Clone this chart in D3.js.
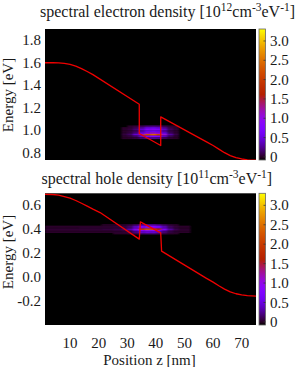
<!DOCTYPE html>
<html>
<head>
<meta charset="utf-8">
<script src="https://cdn.jsdelivr.net/npm/d3@7"></script>
<style>
  body { margin: 0; background: #fff; }
  text { font-family: "Liberation Serif", "Times New Roman", serif; fill: #1a1a1a; }
</style>
</head>
<body>
<svg id="chart"></svg>
<script>
// ---- data ----
const zTicks = [10, 20, 30, 40, 50, 60, 70];
const elecTicks = [0.8, 1.0, 1.2, 1.4, 1.6, 1.8];
const holeTicks = [-0.2, 0.0, 0.2, 0.4, 0.6];
const cbTicks = [0, 0.5, 1.0, 1.5, 2.0, 2.5, 3.0];

// conduction band edge (top panel)
const cbZ = [1.25, 4, 6, 8, 10, 12, 14, 16, 18, 34.2, 34.2, 41.7, 41.7, 57.7, 60, 62, 64, 66, 68, 70, 72, 75];
const cbE = [1.600, 1.600, 1.599, 1.594, 1.585, 1.570, 1.548, 1.522, 1.494, 1.231, 0.971, 0.864, 1.118, 0.896,
             0.864, 0.832, 0.800, 0.774, 0.756, 0.744, 0.737, 0.733];

// valence band edge (bottom panel)
const vbZ = [1.25, 4, 6, 8, 10, 12, 14, 16, 18, 20.5, 34.2, 34.6, 41.7, 42.0, 57.7, 60, 62, 64, 66, 68, 70, 72, 75];
const vbE = [0.692, 0.690, 0.684, 0.673, 0.659, 0.640, 0.617, 0.593, 0.568, 0.539, 0.317, 0.461, 0.369, 0.217,
             -0.011, -0.042, -0.072, -0.100, -0.123, -0.139, -0.148, -0.154, -0.158];

// spectral electron density, cells (z bin edges, energy bin edges, values)
const elecZEdges = [26, 28, 30, 32, 34, 36, 38, 40, 42, 44, 46, 48];
const elecEEdges = [1.0425, 1.0275, 1.0125, 0.9975, 0.9825, 0.9675, 0.9525, 0.9375, 0.9225];
const elecValues = [
  [0.00, 0.00, 0.01, 0.04, 0.10, 0.18, 0.20, 0.17, 0.09, 0.02, 0.01],
  [0.00, 0.01, 0.03, 0.10, 0.28, 0.50, 0.55, 0.47, 0.25, 0.07, 0.02],
  [0.00, 0.02, 0.05, 0.16, 0.45, 0.81, 0.90, 0.77, 0.41, 0.11, 0.03],
  [0.00, 0.01, 0.04, 0.11, 0.30, 0.54, 0.60, 0.51, 0.27, 0.07, 0.02],
  [0.00, 0.02, 0.07, 0.20, 0.55, 0.99, 1.10, 0.94, 0.50, 0.13, 0.03],
  [0.00, 0.05, 0.14, 0.43, 1.20, 2.16, 2.40, 2.04, 1.08, 0.29, 0.07],
  [0.00, 0.02, 0.05, 0.14, 0.40, 0.72, 0.80, 0.68, 0.36, 0.10, 0.02],
  [0.00, 0.01, 0.02, 0.05, 0.13, 0.23, 0.25, 0.21, 0.11, 0.03, 0.01]
];

// spectral hole density
const holeZEdges = [1.25, 5, 9, 13, 17, 21, 25, 28, 30, 32, 34, 36, 38, 40, 42, 44, 46, 48, 52];
const holeEEdges = [0.442, 0.430, 0.418, 0.406, 0.394, 0.382, 0.370, 0.358];
const holeValues = [
  [0.00, 0.00, 0.00, 0.00, 0.00, 0.01, 0.01, 0.02, 0.05, 0.12, 0.26, 0.30, 0.29, 0.21, 0.11, 0.04, 0.01, 0.00],
  [0.01, 0.01, 0.01, 0.01, 0.01, 0.02, 0.03, 0.05, 0.14, 0.36, 0.77, 0.90, 0.86, 0.63, 0.32, 0.11, 0.04, 0.01],
  [0.01, 0.01, 0.01, 0.02, 0.02, 0.02, 0.03, 0.06, 0.15, 0.40, 0.85, 1.00, 0.95, 0.70, 0.35, 0.12, 0.04, 0.01],
  [0.03, 0.03, 0.03, 0.03, 0.03, 0.05, 0.07, 0.14, 0.35, 0.92, 1.96, 2.30, 2.19, 1.61, 0.81, 0.28, 0.09, 0.02],
  [0.01, 0.01, 0.01, 0.02, 0.02, 0.02, 0.03, 0.06, 0.15, 0.40, 0.85, 1.00, 0.95, 0.70, 0.35, 0.12, 0.04, 0.01],
  [0.01, 0.01, 0.01, 0.01, 0.01, 0.01, 0.02, 0.03, 0.08, 0.22, 0.47, 0.55, 0.52, 0.39, 0.19, 0.07, 0.02, 0.01],
  [0.00, 0.00, 0.00, 0.00, 0.00, 0.00, 0.01, 0.01, 0.03, 0.08, 0.17, 0.20, 0.19, 0.14, 0.07, 0.02, 0.01, 0.00]
];

// ---- layout ----
const W = 300, H = 367;
const plotLeft = 45, plotRight = 256;
const cbLeft = 259, cbWidth = 6.5;
const cbDomain = [-0.08, 3.31];

// gnuplot default palette (rgbformulae 7,5,15)
function palette(t) {
  t = Math.max(0, Math.min(1, t));
  const r = Math.sqrt(t), g = t * t * t, b = Math.max(0, Math.sin(2 * Math.PI * t));
  return d3.rgb(r * 255, g * 255, b * 255).toString();
}
const colorT = d3.scaleLinear().domain(cbDomain).range([0, 1]).clamp(true);
const color = (v) => palette(colorT(v));

const svg = d3.select("#chart").attr("width", W).attr("height", H);
const defs = svg.append("defs");

const grad = defs.append("linearGradient").attr("id", "cbgrad")
  .attr("x1", 0).attr("y1", 1).attr("x2", 0).attr("y2", 0);
d3.range(0, 1.0001, 0.02).forEach((t) => {
  grad.append("stop").attr("offset", t).attr("stop-color", palette(t));
});

defs.append("filter").attr("id", "soft")
  .attr("x", "-50%").attr("y", "-200%").attr("width", "200%").attr("height", "500%")
  .append("feGaussianBlur").attr("stdDeviation", "1.3 0.6");

const x = d3.scaleLinear().domain([1.25, 75]).range([plotLeft, plotRight]);

const panels = [
  {
    id: "elec", top: 29, bottom: 160, eDomain: [0.735, 1.9],
    ticks: elecTicks, labelY: 95, titleY: 17, titleX: 40,
    title: ["spectral electron density [10", "12", "cm", "-3", "eV", "-1", "]"],
    zEdges: elecZEdges, eEdges: elecEEdges, values: elecValues,
    lineZ: cbZ, lineE: cbE
  },
  {
    id: "hole", top: 193.3, bottom: 325, eDomain: [-0.4, 0.7],
    ticks: holeTicks, labelY: 252, titleY: 184, titleX: 41.5,
    title: ["spectral hole density [10", "11", "cm", "-3", "eV", "-1", "]"],
    zEdges: holeZEdges, eEdges: holeEEdges, values: holeValues,
    lineZ: vbZ, lineE: vbE
  }
];

panels.forEach((p) => {
  const y = d3.scaleLinear().domain(p.eDomain).range([p.bottom, p.top]);
  const g = svg.append("g");

  defs.append("clipPath").attr("id", "clip-" + p.id)
    .append("rect").attr("x", plotLeft).attr("y", p.top)
    .attr("width", plotRight - plotLeft).attr("height", p.bottom - p.top);

  // black background
  g.append("rect").attr("x", plotLeft).attr("y", p.top)
    .attr("width", plotRight - plotLeft).attr("height", p.bottom - p.top)
    .attr("fill", "#000");

  // density map
  const cells = [];
  p.values.forEach((row, i) => {
    row.forEach((v, j) => {
      if (v > 0.005) {
        cells.push({ z0: p.zEdges[j], z1: p.zEdges[j + 1], e0: p.eEdges[i], e1: p.eEdges[i + 1], v: v });
      }
    });
  });
  g.append("g").attr("clip-path", `url(#clip-${p.id})`)
    .append("g").attr("filter", "url(#soft)")
    .selectAll("rect").data(cells).join("rect")
    .attr("x", (d) => x(d.z0))
    .attr("width", (d) => x(d.z1) - x(d.z0) + 0.2)
    .attr("y", (d) => y(d.e0))
    .attr("height", (d) => y(d.e1) - y(d.e0) + 0.2)
    .attr("fill", (d) => color(d.v));

  // band edge
  const pts = p.lineZ.map((z, i) => [z, p.lineE[i]]);
  const line = d3.line().x((d) => x(d[0])).y((d) => y(d[1]));
  g.append("path").attr("clip-path", `url(#clip-${p.id})`)
    .attr("d", line(pts))
    .attr("fill", "none").attr("stroke", "#f00000").attr("stroke-width", 1.3)
    .attr("stroke-linejoin", "round");

  // y tick labels
  g.selectAll(".ytick").data(p.ticks).join("text")
    .attr("x", 41).attr("y", (d) => y(d)).attr("dy", "0.34em")
    .attr("text-anchor", "end").attr("font-size", 15)
    .text((d) => d.toFixed(1));

  // y label
  g.append("text")
    .attr("transform", `translate(13,${p.labelY}) rotate(-90)`)
    .attr("text-anchor", "middle").attr("font-size", 15)
    .text("Energy [eV]");

  // title with superscripts
  const t = g.append("text").attr("x", p.titleX).attr("y", p.titleY).attr("font-size", 16);
  p.title.forEach((s, i) => {
    const sup = i % 2 === 1;
    t.append("tspan")
      .attr("dy", sup ? -6 : (i > 0 ? 6 : 0))
      .attr("font-size", sup ? 11.5 : 16)
      .text(s);
  });

  // colorbar
  const cy = d3.scaleLinear().domain(cbDomain).range([p.bottom, p.top]);
  g.append("rect").attr("x", cbLeft).attr("y", p.top)
    .attr("width", cbWidth).attr("height", p.bottom - p.top)
    .attr("fill", "url(#cbgrad)").attr("stroke", "#666").attr("stroke-width", 0.8);
  g.selectAll(".cbtick").data(cbTicks).join("line")
    .attr("x1", cbLeft + cbWidth - 2).attr("x2", cbLeft + cbWidth)
    .attr("y1", (d) => cy(d)).attr("y2", (d) => cy(d))
    .attr("stroke", "#333").attr("stroke-width", 0.8);
  g.selectAll(".cblabel").data(cbTicks).join("text")
    .attr("x", 270).attr("y", (d) => cy(d)).attr("dy", "0.34em")
    .attr("font-size", 15)
    .text((d) => (d === 0 ? "0" : d.toFixed(1)));
});

// x axis labels (bottom panel only)
svg.selectAll(".xtick").data(zTicks).join("text")
  .attr("x", (d) => x(d)).attr("y", 347.5)
  .attr("text-anchor", "middle").attr("font-size", 15)
  .text((d) => d);

svg.append("text")
  .attr("x", (plotLeft + plotRight) / 2 - 1).attr("y", 365)
  .attr("text-anchor", "middle").attr("font-size", 15)
  .text("Position z [nm]");
</script>
</body>
</html>
